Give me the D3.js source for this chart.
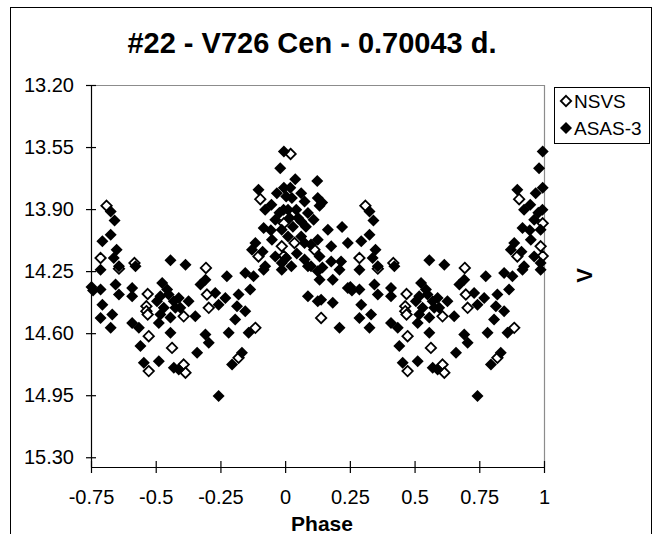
<!DOCTYPE html>
<html>
<head>
<meta charset="utf-8">
<script src="https://cdn.jsdelivr.net/npm/d3@7/dist/d3.min.js"></script>
<style>
  body { margin: 0; background: #fff; }
  svg text { font-family: Arial, "Liberation Sans", sans-serif; fill: #000; }
</style>
</head>
<body>
<script>
'use strict';

// phase (0..1) and V magnitude
const nsvsPhase = [0.021, 0.036, 0.113, 0.139, 0.310, 0.287, 0.418, 0.358, 0.469, 0.464,
  0.464, 0.469, 0.473, 0.563, 0.473, 0.904, 0.987, 0.897, 0.694, 0.698,
  0.705, 0.608, 0.885, 0.820, 0.608, 0.615, 0.995, 0.995];
const nsvsMag = [13.589, 14.091, 14.129, 14.514, 13.881, 14.176, 14.204, 14.236, 14.379, 14.448,
  14.476, 14.495, 14.617, 14.683, 14.814, 13.844, 14.110, 14.167, 14.232, 14.382,
  14.457, 14.505, 14.570, 14.739, 14.777, 14.823, 13.980, 14.165];

const asasPhase = [0.995, 0.039, 0.124, 0.126, 0.133, 0.026, 0.062, 0.075, 0.011, 0.043,
  0.088, 0.017, 0.062, 0.004, 0.011, 0.062, 0.075, 0.126, 0.004, 0.024,
  0.075, 0.100, 0.088, 0.126, 0.133, 0.088, 0.126,
  0.050, 0.030, 0.080, 0.020, 0.100, 0.045, 0.110,
  0.143, 0.165, 0.220, 0.242, 0.178, 0.178, 0.216, 0.144, 0.210, 0.184,
  0.242, 0.139, 0.184, 0.210, 0.133,
  0.252, 0.258,
  0.326, 0.341, 0.326, 0.294, 0.349, 0.338, 0.557, 0.358, 0.287, 0.422,
  0.345, 0.287, 0.358, 0.409, 0.409, 0.525, 0.518, 0.550, 0.570, 0.505,
  0.531, 0.576, 0.294, 0.332, 0.287, 0.326, 0.409, 0.435, 0.512, 0.557,
  0.441, 0.512, 0.454, 0.570, 0.544, 0.518, 0.557,
  0.981, 0.897, 0.968, 0.923, 0.994, 0.962, 0.917, 0.987, 0.885, 0.949,
  0.872, 0.962, 0.987, 0.923, 0.615, 0.692, 0.673, 0.775, 0.846, 0.878,
  0.917, 0.987, 0.865, 0.820, 0.730, 0.769, 0.814, 0.589, 0.627, 0.595,
  0.743, 0.653, 0.846, 0.807, 0.692, 0.705, 0.782, 0.859, 0.660, 0.833,
  0.795, 0.589, 0.743, 0.995, 0.945, 0.913, 0.947, 0.978];
const asasMag = [13.575, 13.731, 13.741, 13.838, 13.881, 13.838, 13.810, 13.857, 13.904, 13.904,
  13.922, 13.950, 13.970, 13.829, 14.054, 14.054, 14.091, 14.073, 14.176, 14.223,
  14.185, 14.223, 14.223, 14.251, 14.298, 14.392, 14.420,
  13.950, 14.000, 14.000, 13.780, 14.100, 14.150, 13.960,
  13.863, 14.016, 14.001, 14.091, 14.110, 14.195, 14.195, 14.230, 14.242, 14.298,
  14.345, 14.411, 14.429, 14.570, 14.167,
  14.340, 14.360,
  13.913, 13.964, 14.045, 14.082, 14.129, 14.176, 14.189, 14.223, 14.242, 14.223,
  14.326, 14.354, 14.382, 14.345, 14.392, 14.317, 14.392, 14.382, 14.420, 14.420,
  14.457, 14.457, 14.439, 14.495, 14.514, 14.570, 14.542, 14.570, 14.542, 14.598,
  14.673, 14.758, 14.767, 14.795, 14.354, 14.495, 14.512,
  13.669, 13.791, 13.810, 13.904, 13.904, 13.960, 14.007, 14.016, 14.091, 14.073,
  14.129, 14.167, 14.204, 14.223, 14.214, 14.298, 14.326, 14.279, 14.260, 14.279,
  14.242, 14.242, 14.354, 14.382, 14.373, 14.401, 14.448, 14.401, 14.420, 14.457,
  14.439, 14.505, 14.476, 14.523, 14.608, 14.654, 14.598, 14.598, 14.711, 14.711,
  14.777, 14.805, 14.955, 13.780, 14.020, 14.140, 13.876, 13.920];

const xTicks = [-0.75, -0.5, -0.25, 0, 0.25, 0.5, 0.75, 1];
const yTicks = [13.20, 13.55, 13.90, 14.25, 14.60, 14.95, 15.30];
const seriesNames = ["NSVS", "ASAS-3"];

(function() {
  const width = 661, height = 534;
  const svg = d3.select('body').append('svg')
    .attr('width', width)
    .attr('height', height);

  // outer chart border (runs off the bottom like the original)
  svg.append('rect')
    .attr('x', 10.5).attr('y', 7.5)
    .attr('width', 641).attr('height', 560)
    .attr('fill', 'none').attr('stroke', '#000');

  const x = d3.scaleLinear().domain([-0.75, 1]).range([91, 544]);
  const y = d3.scaleLinear().domain([13.2, 15.355]).range([85, 467]);

  // fold: each phase drawn at p, and at p-1 when it still fits
  function fold(ph, mag) {
    const pts = [];
    ph.forEach((p, i) => {
      pts.push([p, mag[i]]);
      if (p - 1 >= -0.75) pts.push([p - 1, mag[i]]);
    });
    return pts;
  }

  // plot area frame: gray on top and right
  svg.append('path')
    .attr('d', `M${x(-0.75)},${y.range()[0] + 0.5}H${x(1) + 0.5}V${y.range()[1]}`)
    .attr('fill', 'none').attr('stroke', '#8c8c8c').attr('stroke-width', 1.2);

  // axes
  const yAxis = svg.append('g')
    .attr('transform', `translate(${x(-0.75)},0)`)
    .call(d3.axisLeft(y).tickValues(yTicks).tickFormat(d3.format('.2f')).tickSizeInner(5).tickSizeOuter(0));
  yAxis.select('.domain').attr('stroke', '#000').attr('stroke-width', 1.2);
  yAxis.selectAll('.tick line').attr('x2', 5).attr('x1', -5).attr('stroke-width', 1.2);
  yAxis.selectAll('.tick text')
    .attr('x', -17).attr('font-size', 20).attr('font-family', 'Arial, "Liberation Sans", sans-serif');

  // plain hyphen for negatives, like the original
  const xAxis = svg.append('g')
    .attr('transform', `translate(0,${y.range()[1]})`)
    .call(d3.axisBottom(x).tickValues(xTicks).tickFormat(d => String(d)).tickSizeInner(6).tickSizeOuter(0));
  xAxis.select('.domain').attr('stroke', '#000').attr('stroke-width', 1.2);
  xAxis.selectAll('.tick line').attr('y1', -6).attr('y2', 6).attr('stroke-width', 1.2);
  xAxis.selectAll('.tick text')
    .attr('y', 23).attr('font-size', 20).attr('font-family', 'Arial, "Liberation Sans", sans-serif');

  // markers
  const diamond = r => `M0,${-r}L${r},0L0,${r}L${-r},0Z`;

  svg.append('g').selectAll('path')
    .data(fold(nsvsPhase, nsvsMag))
    .enter().append('path')
      .attr('d', diamond(5.2))
      .attr('transform', d => `translate(${x(d[0])},${y(d[1])})`)
      .attr('fill', '#fff').attr('stroke', '#000').attr('stroke-width', 1.8);

  svg.append('g').selectAll('path')
    .data(fold(asasPhase, asasMag))
    .enter().append('path')
      .attr('d', diamond(6))
      .attr('transform', d => `translate(${x(d[0])},${y(d[1])})`)
      .attr('fill', '#000');

  // title and axis titles
  svg.append('text')
    .attr('x', 312).attr('y', 53)
    .attr('text-anchor', 'middle')
    .attr('font-size', 29).attr('font-weight', 'bold')
    .text('#22 - V726 Cen - 0.70043 d.');

  svg.append('text')
    .attr('x', 322).attr('y', 531)
    .attr('text-anchor', 'middle')
    .attr('font-size', 21).attr('font-weight', 'bold')
    .text('Phase');

  svg.append('text')
    .attr('transform', 'translate(592,275.5) rotate(-90)')
    .attr('text-anchor', 'middle')
    .attr('font-size', 22).attr('font-weight', 'bold')
    .text('V');

  // legend
  const legend = svg.append('g').attr('class', 'legend');
  legend.append('rect')
    .attr('x', 554.5).attr('y', 87.5)
    .attr('width', 95).attr('height', 56)
    .attr('fill', '#fff').attr('stroke', '#000');

  seriesNames.forEach((name, i) => {
    const cy = 101 + i * 27;
    legend.append('path')
      .attr('d', diamond(i === 0 ? 5.2 : 6))
      .attr('transform', `translate(566,${cy})`)
      .attr('fill', i === 0 ? '#fff' : '#000')
      .attr('stroke', i === 0 ? '#000' : 'none')
      .attr('stroke-width', 1.8);
    legend.append('text')
      .attr('x', 574).attr('y', cy + 7)
      .attr('font-size', 19)
      .text(name);
  });
})();
</script>
</body>
</html>
